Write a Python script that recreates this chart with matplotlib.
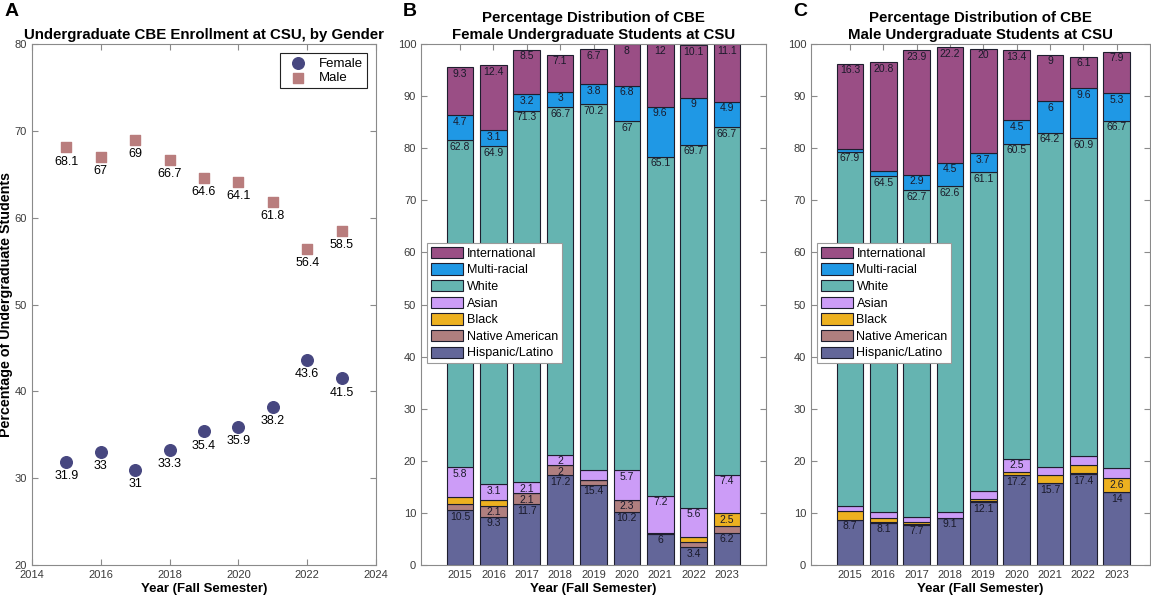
import numpy as np
import matplotlib.pyplot as plt

plt.rcParams['font.family'] = ['Liberation Sans', 'DejaVu Sans']

years = np.arange(2015, 2024)

# Panel A: share of undergraduates by gender (%)
female_pct = [31.9, 33, 31, 33.3, 35.4, 35.9, 38.2, 43.6, 41.5]
male_pct = [68.1, 67, 69, 66.7, 64.6, 64.1, 61.8, 56.4, 58.5]

# Panels B/C: race/ethnicity breakdown (%), stacked bottom to top
groups = ['Hispanic/Latino', 'Native American', 'Black', 'Asian',
          'White', 'Multi-racial', 'International']
colors = ['#636699', '#b07f7f', '#edb120', '#cc9cf7',
          '#65b4b1', '#1f98e5', '#9a4e85']

female_hisp = [10.5, 9.3, 11.7, 17.2, 15.4, 10.2, 6, 3.4, 6.2]
female_native = [1.2, 2.1, 2.1, 2, 1.0, 2.3, 0.1, 1.0, 1.2]
female_black = [1.3, 1.0, 0, 0, 0, 0, 0, 1.0, 2.5]
female_asian = [5.8, 3.1, 2.1, 2, 1.9, 5.7, 7.2, 5.6, 7.4]
female_white = [62.8, 64.9, 71.3, 66.7, 70.2, 67, 65.1, 69.7, 66.7]
female_multi = [4.7, 3.1, 3.2, 3, 3.8, 6.8, 9.6, 9, 4.9]
female_intl = [9.3, 12.4, 8.5, 7.1, 6.7, 8, 12, 10.1, 11.1]

male_hisp = [8.7, 8.1, 7.7, 9.1, 12.1, 17.2, 15.7, 17.4, 14]
male_native = [0, 0.2, 0.2, 0, 0.2, 0.1, 0.1, 0.2, 0.1]
male_black = [1.7, 0.8, 0.3, 0, 0.4, 0.6, 1.4, 1.6, 2.6]
male_asian = [1.0, 1.0, 1.1, 1.0, 1.6, 2.5, 1.6, 1.8, 1.9]
male_white = [67.9, 64.5, 62.7, 62.6, 61.1, 60.5, 64.2, 60.9, 66.7]
male_multi = [0.6, 1.1, 2.9, 4.5, 3.7, 4.5, 6, 9.6, 5.3]
male_intl = [16.3, 20.8, 23.9, 22.2, 20, 13.4, 9, 6.1, 7.9]

female_stack = [female_hisp, female_native, female_black, female_asian,
                female_white, female_multi, female_intl]
male_stack = [male_hisp, male_native, male_black, male_asian,
              male_white, male_multi, male_intl]

TXT = '#3a3a3a'
SPINE = '#8a8a8a'
TITLE_SIZE = 10.8


def style_axes(ax):
    for s in ax.spines.values():
        s.set_color(SPINE)
        s.set_linewidth(0.8)
    ax.tick_params(direction='in', top=True, right=True, length=4,
                   color=SPINE, labelcolor=TXT, labelsize=8)


fig = plt.figure(figsize=(11.51, 6.05), dpi=100)

# ---- Panel A ----
axA = fig.add_axes([0.0278, 0.0661, 0.2989, 0.861])
axA.scatter(years, female_pct, s=70, marker='o', color='#474780', label='Female', zorder=3)
axA.scatter(years, male_pct, s=45, marker='s', color='#b97d7d', label='Male', zorder=3)
for x, f, m in zip(years, female_pct, male_pct):
    axA.annotate(f'{f:g}', (x, f), xytext=(0, -6), textcoords='offset points',
                 ha='center', va='top', fontsize=9, color='black')
    axA.annotate(f'{m:g}', (x, m), xytext=(0, -6), textcoords='offset points',
                 ha='center', va='top', fontsize=9, color='black')
axA.set_xlim(2014, 2024)
axA.set_ylim(20, 80)
axA.set_xticks(range(2014, 2025, 2))
axA.set_yticks(range(20, 81, 10))
style_axes(axA)
axA.set_title('Undergraduate CBE Enrollment at CSU, by Gender',
              fontsize=TITLE_SIZE, fontweight='bold', pad=4)
axA.set_xlabel('Year (Fall Semester)', fontsize=9.5, fontweight='bold', labelpad=2)
axA.set_ylabel('Percentage of Undergraduate Students', fontsize=10.3,
               fontweight='bold', va='center')
axA.yaxis.set_label_coords(-0.076, 0.5)
legA = axA.legend(loc='upper right', fontsize=9.5, fancybox=False, framealpha=1,
                  edgecolor='#222222', borderaxespad=0.7, handletextpad=0.6,
                  borderpad=0.3, labelspacing=0.2)
legA.get_frame().set_linewidth(0.8)


def stacked_panel(ax, stack, title):
    bottom = np.zeros(len(years))
    handles = []
    for name, vals, col in zip(groups, stack, colors):
        vals = np.array(vals, dtype=float)
        bars = ax.bar(years, vals, bottom=bottom, width=0.8, color=col,
                      edgecolor='#1e1e2e', linewidth=0.8, label=name, zorder=2)
        handles.append(bars)
        for x, b, v in zip(years, bottom, vals):
            if v >= 2:
                ax.text(x, b + v - 0.3, f'{v:g}', ha='center', va='top',
                        fontsize=7.5, color='#1a1a2a', zorder=3)
        bottom += vals
    ax.set_ylim(0, 100)
    ax.set_yticks(range(0, 101, 10))
    ax.set_xticks(years)
    style_axes(ax)
    ax.set_title(title, fontsize=TITLE_SIZE, fontweight='bold', pad=4, linespacing=1.2)
    ax.set_xlabel('Year (Fall Semester)', fontsize=9.5, fontweight='bold', labelpad=2)
    leg = ax.legend(handles[::-1], groups[::-1], loc='upper left',
                    bbox_to_anchor=(0.018, 0.618), fontsize=9, fancybox=False,
                    framealpha=1, edgecolor='#9a9a9a', handlelength=2.6,
                    handleheight=1.0, handletextpad=0.25, labelspacing=0.3,
                    borderpad=0.3, borderaxespad=0)
    leg.get_frame().set_linewidth(0.8)
    for p in leg.get_patches():
        p.set_edgecolor('#1e1e2e')


# ---- Panel B ----
axB = fig.add_axes([0.3658, 0.0661, 0.2997, 0.861])
stacked_panel(axB, female_stack,
              'Percentage Distribution of CBE\nFemale Undergraduate Students at CSU')
axB.set_xlim(2013.83, 2024.17)

# ---- Panel C ----
axC = fig.add_axes([0.7046, 0.0661, 0.2945, 0.861])
stacked_panel(axC, male_stack,
              'Percentage Distribution of CBE\nMale Undergraduate Students at CSU')
axC.set_xlim(2013.83, 2024.0)

# panel letters
for lab, xp in [('A', 0.004), ('B', 0.35), ('C', 0.689)]:
    fig.text(xp, 0.995, lab, fontsize=14, fontweight='bold', va='top', ha='left')

fig.savefig('out.png', dpi=100)
